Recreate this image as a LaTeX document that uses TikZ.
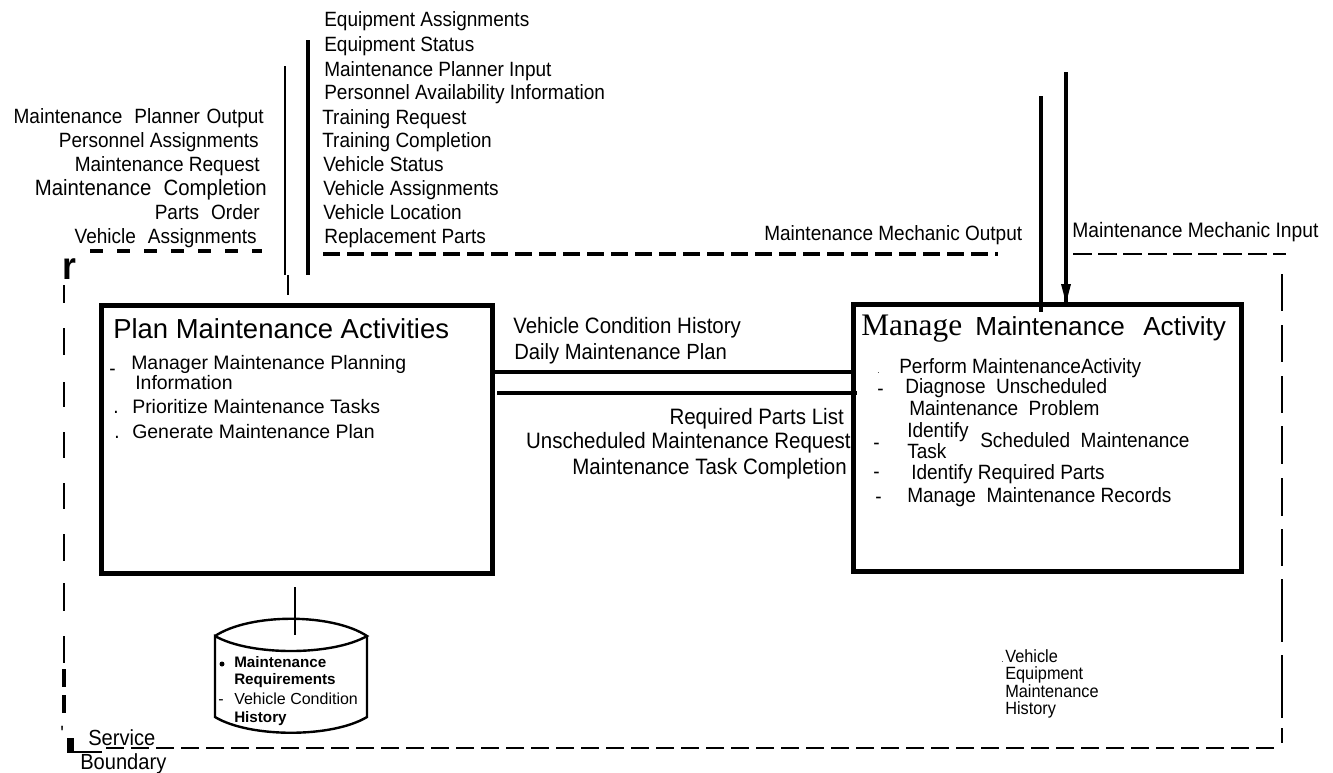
\documentclass[tikz,border=0pt]{standalone}
\usepackage{fontspec}
\setmainfont{Liberation Sans}
\newfontfamily\timesfont{Liberation Serif}
\newfontfamily\tallfont[FakeStretch=0.92]{Liberation Sans}
\newcommand{\fsize}[1]{\fontsize{#1}{#1}\selectfont}
\newcommand{\gap}{\hspace{5pt}}
\tikzset{
	lbl/.style={inner sep=0pt, anchor=base west, font=\fsize{15.5}\tallfont},
	lblr/.style={inner sep=0pt, anchor=base east, font=\fsize{15.5}\tallfont},
	midl/.style={lblr, font=\fsize{16.7}\tallfont},
	title/.style={inner sep=0pt, anchor=base west, font=\fsize{19.6}},
	small/.style={inner sep=0pt, anchor=base west, font=\fsize{12}},
	smallb/.style={inner sep=0pt, anchor=base west, font=\fsize{11.4}\bfseries},
	procbox/.style={draw=black, line width=3.75pt, inner sep=0pt},
	flow/.style={draw=black, line width=2.6pt},
	bnd/.style={draw=black, line width=1.1pt},
}

\begin{document}
\begin{tikzpicture}[x=0.75pt, y=-0.75pt]
\useasboundingbox (0,0) rectangle (1333,772);

% process boxes
\node[procbox, minimum width=293.25pt, minimum height=201pt] (plan) at (297,439) {};
\node[procbox, minimum width=291pt, minimum height=200.25pt] (manage) at (1047.5,437.5) {};

% labels above the boundary
\foreach \i/\x/\y/\t in {1/324/26/Equipment Assignments, 2/324/51/Equipment Status, 3/324/76/Maintenance Planner Input, 4/324/99/Personnel Availability Information, 5/322/124/Training Request, 6/322/147/Training Completion, 7/323/171/Vehicle Status, 8/323/195/Vehicle Assignments, 9/323/219/Vehicle Location, 10/324/243/Replacement Parts}
	\node[lbl] (input\i) at (\x,\y) {\t};
\foreach \i/\x/\y/\t in {1/264/123/Maintenance\gap\ Planner\gap Output, 2/259/147/Personnel Assignments, 3/260/171/Maintenance Request, 4/267/195/{\fsize{16.6}Maintenance\gap\ Completion}, 5/260/219/Parts\gap\ Order, 6/257/243/Vehicle\gap\ Assignments}
	\node[lblr] (output\i) at (\x,\y) {\t};
\node[lbl] (mechout) at (764,240) {Maintenance Mechanic Output};
\node[lbl, font=\fsize{15.7}\tallfont] (mechin) at (1072,237) {Maintenance Mechanic Input};

% plan box text
\node[title, font=\fsize{20.6}] (plantitle) at (113,338) {Plan Maintenance Activities};
\foreach \i/\x/\y/\t in {1/131/369/Manager Maintenance Planning, 2/135/389/Information, 3/132/413/Prioritize Maintenance Tasks, 4/132/438/Generate Maintenance Plan}
	\node[lbl, font=\fsize{14.6}] (plantext\i) at (\x,\y) {\t};
\foreach \i/\x/\y/\t in {1/109/375/-, 2/113/413/., 3/114/438/.}
	\node[lbl] (planmark\i) at (\x,\y) {\t};

% between the boxes
\node[lbl, font=\fsize{16.7}\tallfont] (hist) at (513,333) {Vehicle Condition History};
\node[lbl, font=\fsize{16.5}\tallfont] (daily) at (514,359) {Daily Maintenance Plan};
\node[midl] (parts) at (844,424) {Required Parts List};
\node[midl] (unsch) at (851,448) {Unscheduled Maintenance Request};
\node[midl] (compl) at (847,474) {Maintenance Task Completion};

% manage box text
\node[title, font=\fsize{23.5}\timesfont] (managetitle) at (861,335) {Manage};
\node[title] (managetitleb) at (975,335) {Maintenance};
\node[title] (managetitlec) at (1143,335) {Activity};
\foreach \i/\x/\y/\t in {1/899/373/Perform MaintenanceActivity, 2/905/393/Diagnose\ \ Unscheduled, 3/909/415/Maintenance\ \ Problem, 4/907/437/Identify, 5/907/458/Task, 6/980/447/Scheduled\ \ Maintenance, 7/911/479/Identify Required Parts, 8/907/502/Manage\ \ Maintenance Records}
	\node[lbl] (managetext\i) at (\x,\y) {\t};
\foreach \i/\x/\y/\t in {2/877/395/-, 3/873/449/-, 4/873/478/-, 5/875/503/-}
	\node[lbl] (managemark\i) at (\x,\y) {\t};
\node[small, font=\fsize{6}] (managemark1) at (877,373) {.};

% data store
\draw[line width=1.8pt] (215,636) .. controls (250,613) and (332,613) .. (367,636) .. controls (332,656) and (250,656) .. (215,636) -- (215,717) .. controls (250,738) and (332,738) .. (367,717) -- (367,636);
\node[smallb] (storea) at (234,667) {Maintenance};
\node[smallb] (storeb) at (234,684) {Requirements};
\node[small] (storec) at (234,704) {Vehicle Condition};
\node[smallb] (stored) at (234,722) {History};
\fill (222,664) circle (2.5);
\node[small] (storemark) at (218,704) {-};
\foreach \i/\y/\t in {1/662/Vehicle, 2/679/Equipment, 3/697/Maintenance, 4/714/History}
	\node[lbl, font=\fsize{13.3}\tallfont] (vehhist\i) at (1005,\y) {\t};
\node[small, font=\fsize{6}] (vehmark) at (1001,662) {.};

% connectors
\coordinate (outtop) at (285,66);
\coordinate (outbot) at (285,275);
\coordinate (outjog) at (288,275);
\coordinate (outend) at (288,295);
\coordinate (intop) at (308,40);
\coordinate (inbot) at (308,275);
\coordinate (linka) at (0,372);
\coordinate (linkb) at (497,393);
\coordinate (linkc) at (857,393);
\coordinate (mechouttop) at (1041,96);
\coordinate (mechoutbot) at (1041,312);
\coordinate (mechintop) at (1066,72);
\coordinate (mechinbot) at (1066,303);
\coordinate (storetop) at (295,587);
\coordinate (storeend) at (295,635);
\draw[flow, line width=2.2pt] (outtop) -- (outbot);
\draw[flow, line width=2.2pt] (outjog) -- (outend);
\draw[flow] (intop) -- (inbot);
\draw[flow] (plan.east |- linka) -- (manage.west |- linka);
\draw[flow] (linkb) -- (linkc);
\draw[flow] (mechouttop) -- (mechoutbot);
\draw[flow] (mechintop) -- (mechinbot);
\fill (1061,284) -- (1071,284) -- (1066,303) -- cycle;
\draw[line width=1.2pt] (storetop) -- (storeend);

% service boundary
\draw[line width=2.4pt, dash pattern=on 9.75pt off 10.5pt] (90,251) -- (262,251);
\draw[line width=2.4pt, dash pattern=on 12.75pt off 5.25pt] (323,254) -- (998,254);
\draw[bnd, dash pattern=on 14.25pt off 4.5pt] (1073,254) -- (1286,254);
\draw[bnd, line width=1.5pt, dash pattern=on 13.5pt off 5.25pt] (106,748) -- (1277,748);
\foreach \a/\b in {285/303, 328/355, 382/407, 432/458, 483/509, 534/561, 583/611, 636/663}
	\draw[line width=0.9pt] (64,\a) -- (64,\b);
\foreach \a/\b in {669/687, 695/713}
	\draw[line width=2.6pt] (64,\a) -- (64,\b);
\foreach \a/\b in {274/311, 325/362, 376/413, 426/464, 478/516, 529/566, 579/642, 655/718, 728/743}
	\draw[bnd] (1282,\a) -- (1282,\b);
\node[lbl, font=\fsize{29}\tallfont\bfseries] (corner) at (62,279) {r};
\node[lbl] (tick) at (60,740) {'};
\fill (67,738) rectangle (74,752);
\draw[line width=0.9pt] (67,752) -- (102,752);
\node[lbl, font=\fsize{16.4}\tallfont] (service) at (88,745) {Service};
\node[lbl, font=\fsize{16.4}\tallfont] (boundary) at (80,769) {Boundary};
\end{tikzpicture}
\end{document}
